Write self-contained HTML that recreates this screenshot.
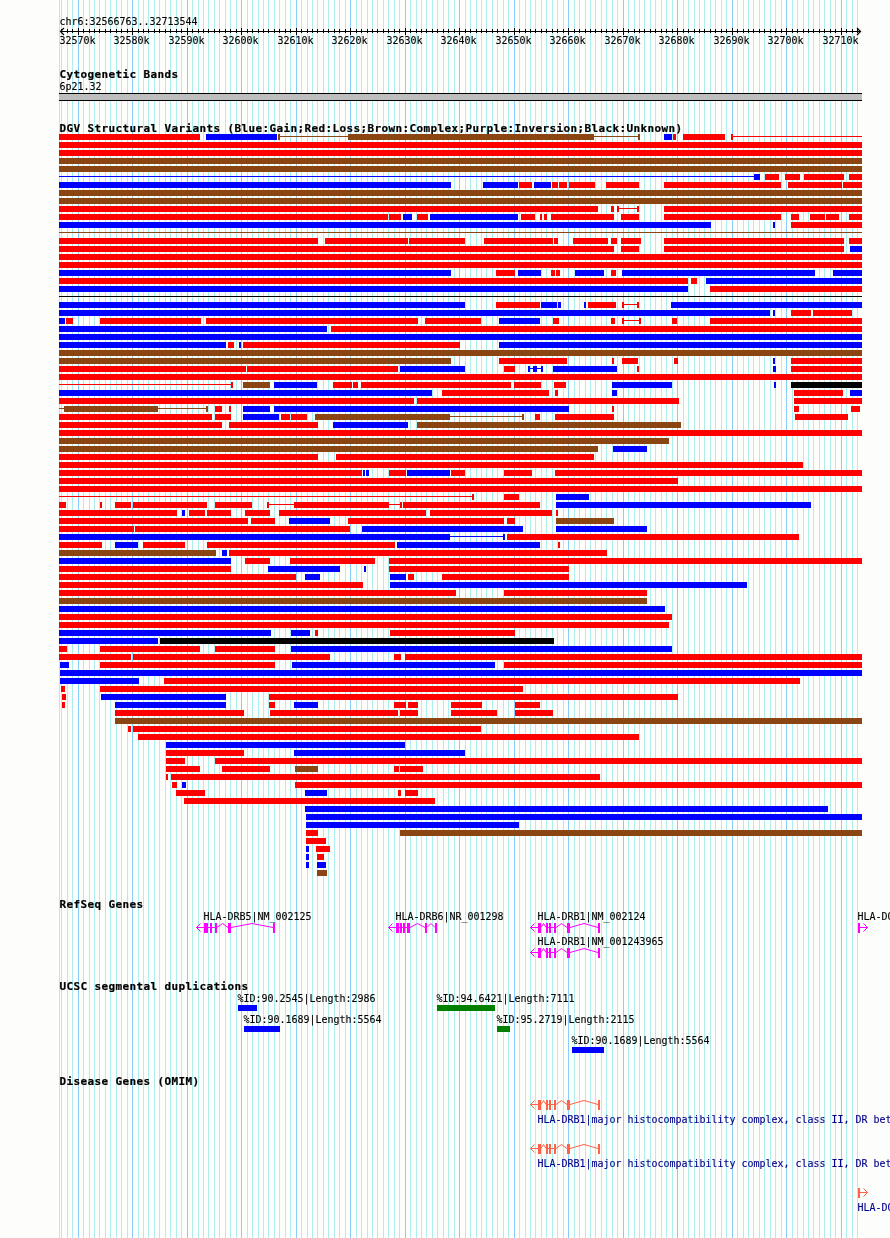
<!DOCTYPE html>
<html><head><meta charset="utf-8"><title>Genome browser</title>
<style>
html,body{margin:0;padding:0;background:#fdfefb}
#w{position:relative;width:890px;height:1238px;overflow:hidden;background:#fdfefb}
#w svg{position:absolute;left:0;top:0}
.t{position:absolute;white-space:pre;font-family:"DejaVu Sans Mono","Liberation Mono",monospace;color:#000;line-height:13px;height:13px}
.s{font-size:9.97px;-webkit-text-stroke:0.12px currentColor}
.b{font-size:11px;font-weight:bold;letter-spacing:0.378px;-webkit-text-stroke:0.2px currentColor}
</style></head><body><div id="w">
<svg width="890" height="1238" viewBox="0 0 890 1238" shape-rendering="crispEdges">
<path d="M59.5 0V1238M61.5 0V1238M67.5 0V1238M72.5 0V1238M83.5 0V1238M89.5 0V1238M94.5 0V1238M99.5 0V1238M105.5 0V1238M110.5 0V1238M116.5 0V1238M121.5 0V1238M127.5 0V1238M138.5 0V1238M143.5 0V1238M148.5 0V1238M154.5 0V1238M159.5 0V1238M165.5 0V1238M170.5 0V1238M176.5 0V1238M181.5 0V1238M192.5 0V1238M198.5 0V1238M203.5 0V1238M208.5 0V1238M214.5 0V1238M219.5 0V1238M225.5 0V1238M230.5 0V1238M236.5 0V1238M247.5 0V1238M252.5 0V1238M258.5 0V1238M263.5 0V1238M268.5 0V1238M274.5 0V1238M279.5 0V1238M285.5 0V1238M290.5 0V1238M301.5 0V1238M307.5 0V1238M312.5 0V1238M317.5 0V1238M323.5 0V1238M328.5 0V1238M334.5 0V1238M339.5 0V1238M345.5 0V1238M356.5 0V1238M361.5 0V1238M367.5 0V1238M372.5 0V1238M377.5 0V1238M383.5 0V1238M388.5 0V1238M394.5 0V1238M399.5 0V1238M410.5 0V1238M416.5 0V1238M421.5 0V1238M426.5 0V1238M432.5 0V1238M437.5 0V1238M443.5 0V1238M448.5 0V1238M454.5 0V1238M465.5 0V1238M470.5 0V1238M476.5 0V1238M481.5 0V1238M486.5 0V1238M492.5 0V1238M497.5 0V1238M503.5 0V1238M508.5 0V1238M519.5 0V1238M525.5 0V1238M530.5 0V1238M535.5 0V1238M541.5 0V1238M546.5 0V1238M552.5 0V1238M557.5 0V1238M563.5 0V1238M574.5 0V1238M579.5 0V1238M585.5 0V1238M590.5 0V1238M595.5 0V1238M601.5 0V1238M606.5 0V1238M612.5 0V1238M617.5 0V1238M628.5 0V1238M634.5 0V1238M639.5 0V1238M644.5 0V1238M650.5 0V1238M655.5 0V1238M661.5 0V1238M666.5 0V1238M672.5 0V1238M683.5 0V1238M688.5 0V1238M694.5 0V1238M699.5 0V1238M704.5 0V1238M710.5 0V1238M715.5 0V1238M721.5 0V1238M726.5 0V1238M737.5 0V1238M743.5 0V1238M748.5 0V1238M753.5 0V1238M759.5 0V1238M764.5 0V1238M770.5 0V1238M775.5 0V1238M781.5 0V1238M792.5 0V1238M797.5 0V1238M803.5 0V1238M808.5 0V1238M813.5 0V1238M819.5 0V1238M824.5 0V1238M830.5 0V1238M835.5 0V1238M846.5 0V1238M852.5 0V1238M857.5 0V1238" stroke="#afeeee" stroke-width="1" fill="none"/>
<path d="M78.5 0V1238M132.5 0V1238M187.5 0V1238M241.5 0V1238M296.5 0V1238M350.5 0V1238M405.5 0V1238M459.5 0V1238M514.5 0V1238M568.5 0V1238M623.5 0V1238M677.5 0V1238M732.5 0V1238M786.5 0V1238M841.5 0V1238" stroke="#87cefa" stroke-width="1" fill="none"/>
<path d="M60 31.5H861M61.5 29V33M67.5 29V33M72.5 29V33M78.5 28V35M83.5 29V33M89.5 29V33M94.5 29V33M99.5 29V33M105.5 29V33M110.5 29V33M116.5 29V33M121.5 29V33M127.5 29V33M132.5 28V35M138.5 29V33M143.5 29V33M148.5 29V33M154.5 29V33M159.5 29V33M165.5 29V33M170.5 29V33M176.5 29V33M181.5 29V33M187.5 28V35M192.5 29V33M198.5 29V33M203.5 29V33M208.5 29V33M214.5 29V33M219.5 29V33M225.5 29V33M230.5 29V33M236.5 29V33M241.5 28V35M247.5 29V33M252.5 29V33M258.5 29V33M263.5 29V33M268.5 29V33M274.5 29V33M279.5 29V33M285.5 29V33M290.5 29V33M296.5 28V35M301.5 29V33M307.5 29V33M312.5 29V33M317.5 29V33M323.5 29V33M328.5 29V33M334.5 29V33M339.5 29V33M345.5 29V33M350.5 28V35M356.5 29V33M361.5 29V33M367.5 29V33M372.5 29V33M377.5 29V33M383.5 29V33M388.5 29V33M394.5 29V33M399.5 29V33M405.5 28V35M410.5 29V33M416.5 29V33M421.5 29V33M426.5 29V33M432.5 29V33M437.5 29V33M443.5 29V33M448.5 29V33M454.5 29V33M459.5 28V35M465.5 29V33M470.5 29V33M476.5 29V33M481.5 29V33M486.5 29V33M492.5 29V33M497.5 29V33M503.5 29V33M508.5 29V33M514.5 28V35M519.5 29V33M525.5 29V33M530.5 29V33M535.5 29V33M541.5 29V33M546.5 29V33M552.5 29V33M557.5 29V33M563.5 29V33M568.5 28V35M574.5 29V33M579.5 29V33M585.5 29V33M590.5 29V33M595.5 29V33M601.5 29V33M606.5 29V33M612.5 29V33M617.5 29V33M623.5 28V35M628.5 29V33M634.5 29V33M639.5 29V33M644.5 29V33M650.5 29V33M655.5 29V33M661.5 29V33M666.5 29V33M672.5 29V33M677.5 28V35M683.5 29V33M688.5 29V33M694.5 29V33M699.5 29V33M704.5 29V33M710.5 29V33M715.5 29V33M721.5 29V33M726.5 29V33M732.5 28V35M737.5 29V33M743.5 29V33M748.5 29V33M753.5 29V33M759.5 29V33M764.5 29V33M770.5 29V33M775.5 29V33M781.5 29V33M786.5 28V35M792.5 29V33M797.5 29V33M803.5 29V33M808.5 29V33M813.5 29V33M819.5 29V33M824.5 29V33M830.5 29V33M835.5 29V33M841.5 28V35M846.5 29V33M852.5 29V33M857.5 29V33" stroke="#000" stroke-width="1" fill="none"/>
<path d="M64 28.0L60.5 31.5L64 35.0M857 28.0L860.5 31.5L857 35.0" stroke="#000" stroke-width="1.2" fill="none" shape-rendering="auto"/>
<rect x="59" y="93" width="803" height="8" fill="#000"/><rect x="59" y="94" width="803" height="6" fill="#bebebe"/>
<path d="M59 134h141v6h-141zM673 134h3v6h-3zM683 134h42v6h-42zM731 136h131v1h-131zM731 134h2v6h-2zM59 142h803v6h-803zM59 150h803v6h-803zM765 174h14v6h-14zM785 174h15v6h-15zM804 174h40v6h-40zM849 174h13v6h-13zM519 182h13v6h-13zM552 182h6v6h-6zM559 182h8v6h-8zM569 182h26v6h-26zM606 182h33v6h-33zM664 182h117v6h-117zM788 182h54v6h-54zM843 182h19v6h-19zM59 206h539v6h-539zM611 206h3v6h-3zM617 208h22v1h-22zM617 206h2v6h-2zM637 206h2v6h-2zM664 206h198v6h-198zM59 214h329v6h-329zM389 214h12v6h-12zM417 214h11v6h-11zM521 214h14v6h-14zM540 214h2v6h-2zM544 214h3v6h-3zM551 214h63v6h-63zM621 214h18v6h-18zM664 214h117v6h-117zM791 214h8v6h-8zM810 214h15v6h-15zM826 214h13v6h-13zM849 214h13v6h-13zM791 222h71v6h-71zM59 238h259v6h-259zM325 238h83v6h-83zM409 238h56v6h-56zM484 238h69v6h-69zM554 238h4v6h-4zM573 238h35v6h-35zM611 238h6v6h-6zM621 238h20v6h-20zM664 238h180v6h-180zM849 238h13v6h-13zM59 246h555v6h-555zM621 246h18v6h-18zM664 246h180v6h-180zM59 254h803v6h-803zM59 262h803v6h-803zM496 270h19v6h-19zM551 270h4v6h-4zM556 270h4v6h-4zM611 270h5v6h-5zM59 278h629v6h-629zM691 278h6v6h-6zM710 286h152v6h-152zM496 302h44v6h-44zM588 302h28v6h-28zM622 304h17v1h-17zM622 302h2v6h-2zM637 302h2v6h-2zM791 310h20v6h-20zM813 310h39v6h-39zM66 318h7v6h-7zM100 318h101v6h-101zM206 318h212v6h-212zM425 318h56v6h-56zM553 318h6v6h-6zM611 318h4v6h-4zM622 320h19v1h-19zM622 318h2v6h-2zM639 318h2v6h-2zM672 318h5v6h-5zM710 318h152v6h-152zM331 326h531v6h-531zM228 342h6v6h-6zM243 342h217v6h-217zM499 358h68v6h-68zM612 358h2v6h-2zM622 358h16v6h-16zM674 358h4v6h-4zM791 358h71v6h-71zM59 366h187v6h-187zM247 366h151v6h-151zM504 366h11v6h-11zM637 366h2v6h-2zM791 366h71v6h-71zM59 374h803v6h-803zM59 384h174v1h-174zM231 382h2v6h-2zM333 382h19v6h-19zM353 382h5v6h-5zM361 382h150v6h-150zM514 382h27v6h-27zM554 382h12v6h-12zM442 390h107v6h-107zM555 390h3v6h-3zM794 390h49v6h-49zM59 398h355v6h-355zM417 398h262v6h-262zM794 398h68v6h-68zM215 406h7v6h-7zM229 406h2v6h-2zM612 406h2v6h-2zM794 406h5v6h-5zM851 406h9v6h-9zM59 414h153v6h-153zM215 414h16v6h-16zM281 414h9v6h-9zM291 414h16v6h-16zM535 414h5v6h-5zM555 414h59v6h-59zM795 414h53v6h-53zM59 422h163v6h-163zM229 422h89v6h-89zM59 430h803v6h-803zM59 454h259v6h-259zM336 454h258v6h-258zM59 462h744v6h-744zM59 470h303v6h-303zM389 470h17v6h-17zM451 470h14v6h-14zM504 470h28v6h-28zM555 470h307v6h-307zM59 478h619v6h-619zM59 486h803v6h-803zM59 496h415v1h-415zM472 494h2v6h-2zM504 494h15v6h-15zM59 502h7v6h-7zM100 502h2v6h-2zM115 502h16v6h-16zM133 502h74v6h-74zM215 502h37v6h-37zM267 504h27v1h-27zM267 502h2v6h-2zM294 502h95v6h-95zM389 504h13v1h-13zM400 502h2v6h-2zM403 502h137v6h-137zM59 510h118v6h-118zM189 510h16v6h-16zM207 510h24v6h-24zM245 510h25v6h-25zM279 510h147v6h-147zM430 510h122v6h-122zM556 510h2v6h-2zM59 518h189v6h-189zM251 518h24v6h-24zM348 518h156v6h-156zM507 518h8v6h-8zM59 526h75v6h-75zM135 526h215v6h-215zM507 534h292v6h-292zM59 542h43v6h-43zM143 542h42v6h-42zM207 542h188v6h-188zM558 542h2v6h-2zM229 550h378v6h-378zM245 558h25v6h-25zM290 558h85v6h-85zM389 558h473v6h-473zM59 566h172v6h-172zM389 566h180v6h-180zM59 574h237v6h-237zM408 574h6v6h-6zM442 574h127v6h-127zM59 582h304v6h-304zM59 590h397v6h-397zM504 590h143v6h-143zM59 614h613v6h-613zM59 622h610v6h-610zM315 630h3v6h-3zM390 630h125v6h-125zM59 646h8v6h-8zM100 646h100v6h-100zM215 646h60v6h-60zM59 654h72v6h-72zM133 654h197v6h-197zM394 654h7v6h-7zM405 654h457v6h-457zM100 662h175v6h-175zM504 662h358v6h-358zM164 678h636v6h-636zM61 686h4v6h-4zM100 686h423v6h-423zM62 694h4v6h-4zM269 694h409v6h-409zM62 702h3v6h-3zM269 702h6v6h-6zM394 702h12v6h-12zM408 702h10v6h-10zM451 702h31v6h-31zM515 702h25v6h-25zM115 710h129v6h-129zM270 710h128v6h-128zM400 710h18v6h-18zM451 710h46v6h-46zM515 710h38v6h-38zM128 726h3v6h-3zM133 726h348v6h-348zM138 734h501v6h-501zM166 750h78v6h-78zM166 758h19v6h-19zM215 758h647v6h-647zM166 766h34v6h-34zM222 766h48v6h-48zM394 766h5v6h-5zM400 766h23v6h-23zM166 774h2v6h-2zM171 774h429v6h-429zM172 782h5v6h-5zM295 782h567v6h-567zM176 790h29v6h-29zM398 790h3v6h-3zM405 790h13v6h-13zM184 798h251v6h-251zM306 830h12v6h-12zM306 838h20v6h-20zM316 846h14v6h-14zM317 854h7v6h-7z" fill="#ff0000"/>
<path d="M206 134h71v6h-71zM664 134h8v6h-8zM59 176h695v1h-695zM754 174h6v6h-6zM59 182h392v6h-392zM483 182h35v6h-35zM534 182h17v6h-17zM403 214h9v6h-9zM430 214h88v6h-88zM59 222h652v6h-652zM773 222h2v6h-2zM850 246h12v6h-12zM59 270h392v6h-392zM518 270h23v6h-23zM575 270h29v6h-29zM622 270h193v6h-193zM833 270h29v6h-29zM706 278h156v6h-156zM59 286h629v6h-629zM59 302h406v6h-406zM541 302h16v6h-16zM558 302h3v6h-3zM584 302h2v6h-2zM671 302h191v6h-191zM59 310h711v6h-711zM773 310h2v6h-2zM59 318h6v6h-6zM499 318h41v6h-41zM59 326h268v6h-268zM59 334h803v6h-803zM59 342h167v6h-167zM239 342h2v6h-2zM499 342h363v6h-363zM773 358h2v6h-2zM400 366h65v6h-65zM528 368h15v1h-15zM528 366h2v6h-2zM533 366h4v6h-4zM541 366h2v6h-2zM553 366h64v6h-64zM773 366h3v6h-3zM274 382h43v6h-43zM612 382h60v6h-60zM774 382h2v6h-2zM59 390h373v6h-373zM612 390h5v6h-5zM850 390h12v6h-12zM243 406h27v6h-27zM274 406h295v6h-295zM243 414h36v6h-36zM333 422h75v6h-75zM613 446h34v6h-34zM363 470h2v6h-2zM366 470h3v6h-3zM407 470h43v6h-43zM556 494h33v6h-33zM556 502h255v6h-255zM182 510h3v6h-3zM289 518h41v6h-41zM362 526h161v6h-161zM556 526h91v6h-91zM59 534h391v6h-391zM450 536h55v1h-55zM503 534h2v6h-2zM115 542h23v6h-23zM397 542h143v6h-143zM222 550h5v6h-5zM59 558h172v6h-172zM268 566h72v6h-72zM364 566h2v6h-2zM305 574h15v6h-15zM390 574h16v6h-16zM390 582h357v6h-357zM59 606h606v6h-606zM59 630h212v6h-212zM291 630h19v6h-19zM59 638h99v6h-99zM291 646h381v6h-381zM60 662h9v6h-9zM292 662h203v6h-203zM60 670h802v6h-802zM60 678h79v6h-79zM101 694h125v6h-125zM115 702h111v6h-111zM294 702h24v6h-24zM166 742h239v6h-239zM294 750h171v6h-171zM182 782h4v6h-4zM305 790h22v6h-22zM305 806h523v6h-523zM306 814h556v6h-556zM306 822h213v6h-213zM306 846h3v6h-3zM306 854h3v6h-3zM306 862h3v6h-3zM317 862h9v6h-9z" fill="#0000ff"/>
<path d="M278 136h70v1h-70zM278 134h2v6h-2zM348 134h246v6h-246zM594 136h46v1h-46zM638 134h2v6h-2zM59 158h803v6h-803zM59 166h803v6h-803zM59 190h803v6h-803zM59 198h803v6h-803zM59 232h803v1h-803zM59 350h803v6h-803zM59 358h392v6h-392zM243 382h27v6h-27zM59 408h149v1h-149zM64 406h94v6h-94zM206 406h2v6h-2zM315 414h135v6h-135zM450 416h74v1h-74zM522 414h2v6h-2zM417 422h264v6h-264zM59 438h610v6h-610zM59 446h539v6h-539zM556 518h58v6h-58zM59 550h157v6h-157zM59 598h588v6h-588zM115 718h747v6h-747zM295 766h23v6h-23zM400 830h462v6h-462zM317 870h10v6h-10z" fill="#8b4513"/>
<path d="M59 296h803v1h-803zM791 382h71v6h-71zM160 638h394v6h-394z" fill="#000000"/>
<path d="M196.5 927.5L204 927.5M200.5 923.5L196.5 927.5L200.5 931.5M208 927.5L210 927.5M212 927.5L215 927.5M217 927.5L222.5 923.5L228 927.5M231 927.5L252.0 923.5L273 927.5" stroke="#ff00ff" stroke-width="1" fill="none" shape-rendering="auto"/><path d="M204 923h4v10h-4zM210 923h2v10h-2zM215 923h2v10h-2zM228 923h3v10h-3zM273 923h2v10h-2z" fill="#ff00ff"/>
<path d="M388.5 927.5L396 927.5M392.5 923.5L388.5 927.5L392.5 931.5M399 927.5L400 927.5M402 927.5L403 927.5M405 927.5L407 927.5M410 927.5L417.5 923.5L425 927.5M427 927.5L431.0 923.5L435 927.5" stroke="#ff00ff" stroke-width="1" fill="none" shape-rendering="auto"/><path d="M396 923h3v10h-3zM400 923h2v10h-2zM403 923h2v10h-2zM407 923h3v10h-3zM425 923h2v10h-2zM435 923h2v10h-2z" fill="#ff00ff"/>
<path d="M530.5 927.5L538 927.5M534.5 923.5L530.5 927.5L534.5 931.5M541 927.5L543.5 923.5L546 927.5M548 927.5L549 927.5M551 927.5L554 927.5M556 927.5L561.5 923.5L567 927.5M570 927.5L584.0 923.5L598 927.5" stroke="#ff00ff" stroke-width="1" fill="none" shape-rendering="auto"/><path d="M538 923h3v10h-3zM546 923h2v10h-2zM549 923h2v10h-2zM554 923h2v10h-2zM567 923h3v10h-3zM598 923h2v10h-2z" fill="#ff00ff"/>
<path d="M530.5 952.5L538 952.5M534.5 948.5L530.5 952.5L534.5 956.5M541 952.5L543.5 948.5L546 952.5M548 952.5L549 952.5M551 952.5L554 952.5M556 952.5L561.5 948.5L567 952.5M570 952.5L584.0 948.5L598 952.5" stroke="#ff00ff" stroke-width="1" fill="none" shape-rendering="auto"/><path d="M538 948h3v10h-3zM546 948h2v10h-2zM549 948h2v10h-2zM554 948h2v10h-2zM567 948h3v10h-3zM598 948h2v10h-2z" fill="#ff00ff"/>
<path d="M860 927.5L867.5 927.5M863.5 923.5L867.5 927.5L863.5 931.5" stroke="#ff00ff" stroke-width="1" fill="none" shape-rendering="auto"/><path d="M858 923h2v10h-2z" fill="#ff00ff"/>
<path d="M530.5 1104.5L538 1104.5M534.5 1100.5L530.5 1104.5L534.5 1108.5M541 1104.5L543.5 1100.5L546 1104.5M548 1104.5L549 1104.5M551 1104.5L554 1104.5M556 1104.5L561.5 1100.5L567 1104.5M570 1104.5L584.0 1100.5L598 1104.5" stroke="#ff6347" stroke-width="1" fill="none" shape-rendering="auto"/><path d="M538 1100h3v10h-3zM546 1100h2v10h-2zM549 1100h2v10h-2zM554 1100h2v10h-2zM567 1100h3v10h-3zM598 1100h2v10h-2z" fill="#ff6347"/>
<path d="M530.5 1148.5L538 1148.5M534.5 1144.5L530.5 1148.5L534.5 1152.5M541 1148.5L543.5 1144.5L546 1148.5M548 1148.5L549 1148.5M551 1148.5L554 1148.5M556 1148.5L561.5 1144.5L567 1148.5M570 1148.5L584.0 1144.5L598 1148.5" stroke="#ff6347" stroke-width="1" fill="none" shape-rendering="auto"/><path d="M538 1144h3v10h-3zM546 1144h2v10h-2zM549 1144h2v10h-2zM554 1144h2v10h-2zM567 1144h3v10h-3zM598 1144h2v10h-2z" fill="#ff6347"/>
<path d="M860 1192.5L867.5 1192.5M863.5 1188.5L867.5 1192.5L863.5 1196.5" stroke="#ff6347" stroke-width="1" fill="none" shape-rendering="auto"/><path d="M858 1188h2v10h-2z" fill="#ff6347"/>
<rect x="238" y="1005" width="19" height="6" fill="#0000ff"/>
<rect x="244" y="1026" width="36" height="6" fill="#0000ff"/>
<rect x="437" y="1005" width="58" height="6" fill="#008000"/>
<rect x="497" y="1026" width="13" height="6" fill="#008000"/>
<rect x="572" y="1047" width="32" height="6" fill="#0000ff"/>
</svg>
<div class="t s" style="left:59.5px;top:15px;">chr6:32566763..32713544</div>
<div class="t s" style="left:59.5px;top:34px;">32570k</div>
<div class="t s" style="left:113.5px;top:34px;">32580k</div>
<div class="t s" style="left:168.5px;top:34px;">32590k</div>
<div class="t s" style="left:222.5px;top:34px;">32600k</div>
<div class="t s" style="left:277.5px;top:34px;">32610k</div>
<div class="t s" style="left:331.5px;top:34px;">32620k</div>
<div class="t s" style="left:386.5px;top:34px;">32630k</div>
<div class="t s" style="left:440.5px;top:34px;">32640k</div>
<div class="t s" style="left:495.5px;top:34px;">32650k</div>
<div class="t s" style="left:549.5px;top:34px;">32660k</div>
<div class="t s" style="left:604.5px;top:34px;">32670k</div>
<div class="t s" style="left:658.5px;top:34px;">32680k</div>
<div class="t s" style="left:713.5px;top:34px;">32690k</div>
<div class="t s" style="left:767.5px;top:34px;">32700k</div>
<div class="t s" style="left:822.5px;top:34px;">32710k</div>
<div class="t b" style="left:59.5px;top:68px;">Cytogenetic Bands</div>
<div class="t s" style="left:59.5px;top:80px;">6p21.32</div>
<div class="t b" style="left:59.5px;top:122px;">DGV Structural Variants (Blue:Gain;Red:Loss;Brown:Complex;Purple:Inversion;Black:Unknown)</div>
<div class="t b" style="left:59.5px;top:898px;">RefSeq Genes</div>
<div class="t s" style="left:203.5px;top:910px;">HLA-DRB5|NM_002125</div>
<div class="t s" style="left:395.5px;top:910px;">HLA-DRB6|NR_001298</div>
<div class="t s" style="left:537.5px;top:910px;">HLA-DRB1|NM_002124</div>
<div class="t s" style="left:537.5px;top:935px;">HLA-DRB1|NM_001243965</div>
<div class="t s" style="left:857.5px;top:910px;">HLA-DQA1|NM_002122</div>
<div class="t b" style="left:59.5px;top:980px;">UCSC segmental duplications</div>
<div class="t s" style="left:237.5px;top:992px;">%ID:90.2545|Length:2986</div>
<div class="t s" style="left:243.5px;top:1013px;">%ID:90.1689|Length:5564</div>
<div class="t s" style="left:436.5px;top:992px;">%ID:94.6421|Length:7111</div>
<div class="t s" style="left:496.5px;top:1013px;">%ID:95.2719|Length:2115</div>
<div class="t s" style="left:571.5px;top:1034px;">%ID:90.1689|Length:5564</div>
<div class="t b" style="left:59.5px;top:1075px;">Disease Genes (OMIM)</div>
<div class="t s" style="left:537.5px;top:1113px;color:#00008b;">HLA-DRB1|major histocompatibility complex, class II, DR beta 1</div>
<div class="t s" style="left:537.5px;top:1157px;color:#00008b;">HLA-DRB1|major histocompatibility complex, class II, DR beta 1</div>
<div class="t s" style="left:857.5px;top:1201px;color:#00008b;">HLA-DQA1|major histocompatibility complex, class II, DQ alpha 1</div>
</div></body></html>
